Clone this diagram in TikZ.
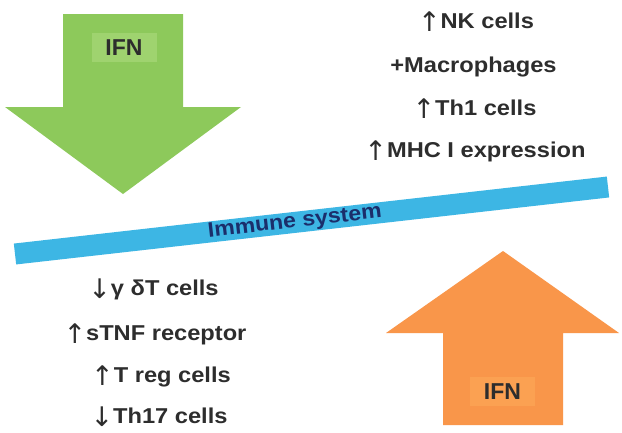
\documentclass[tikz,border=0pt]{standalone}
\usepackage{fontspec}
\setmainfont{Liberation Sans}[FakeStretch=1.1]
\newfontfamily\arrowfont{DejaVu Sans}
\newfontfamily\ifnfont{Liberation Sans}
\newcommand\uarr{{\arrowfont\mdseries\fontsize{27}{27}\selectfont\raisebox{-3.5pt}{↑}}}
\newcommand\darr{{\arrowfont\mdseries\fontsize{27}{27}\selectfont\raisebox{-3.5pt}{↓}}}
\definecolor{arrgreen}{HTML}{8DC95B}
\definecolor{boxgreen}{HTML}{9FD36F}
\definecolor{arrorange}{HTML}{F9964A}
\definecolor{boxorange}{HTML}{FBA152}
\definecolor{barblue}{HTML}{3DB6E4}
\definecolor{navy}{HTML}{1B2E6B}
\definecolor{txtgray}{HTML}{2D2D2D}
\tikzset{
  lbl/.style={font=\bfseries\fontsize{21.5}{25}\selectfont, text=txtgray, inner sep=0pt, anchor=base},
  ifnlbl/.style={font=\ifnfont\bfseries\fontsize{23}{27}\selectfont, text=txtgray, inner sep=0pt, minimum width=65pt, minimum height=29pt},
  imm/.style={font=\bfseries\fontsize{21}{25}\selectfont, text=navy, inner sep=0pt},
  bar/.style={line width=21pt, draw=barblue}
}
\begin{document}
\begin{tikzpicture}[x=1pt,y=-1pt]
\useasboundingbox[fill=white] (0,0) rectangle (622,432);
% green arrow
\fill[arrgreen] (63,14) -- (183,14) -- (183,107) -- (241,107) -- (123,194) -- (5,107) -- (63,107) -- cycle;
\node[ifnlbl, fill=boxgreen] (ifn1) at (124,47.5) {IFN};
% orange arrow
\fill[arrorange] (443,425) -- (563,425) -- (563,333) -- (619,333) -- (503,251) -- (386,333) -- (443,333) -- cycle;
\node[ifnlbl, fill=boxorange] (ifn2) at (502.5,391.5) {IFN};
% bar
\coordinate (barL) at (15,254);
\coordinate (barR) at (608,187);
\draw[bar] (barL) -- node[imm, sloped, pos=0.472] (immune) {Immune system} (barR);
% top right
\node[lbl] (nk) at (476,28) {\uarr NK cells};
\node[lbl] (mac) at (473.5,72) {+Macrophages};
\node[lbl] (th1) at (474.5,115) {\uarr Th1 cells};
\node[lbl] (mhc) at (475,157) {\uarr MHC I expression};
% bottom left
\node[lbl] (gd) at (153.5,295) {\darr γ δT cells};
\node[lbl] (tnf) at (155,340) {\uarr sTNF receptor};
\node[lbl] (treg) at (161,382) {\uarr T reg cells};
\node[lbl] (th17) at (159,423) {\darr Th17 cells};
\end{tikzpicture}
\end{document}
